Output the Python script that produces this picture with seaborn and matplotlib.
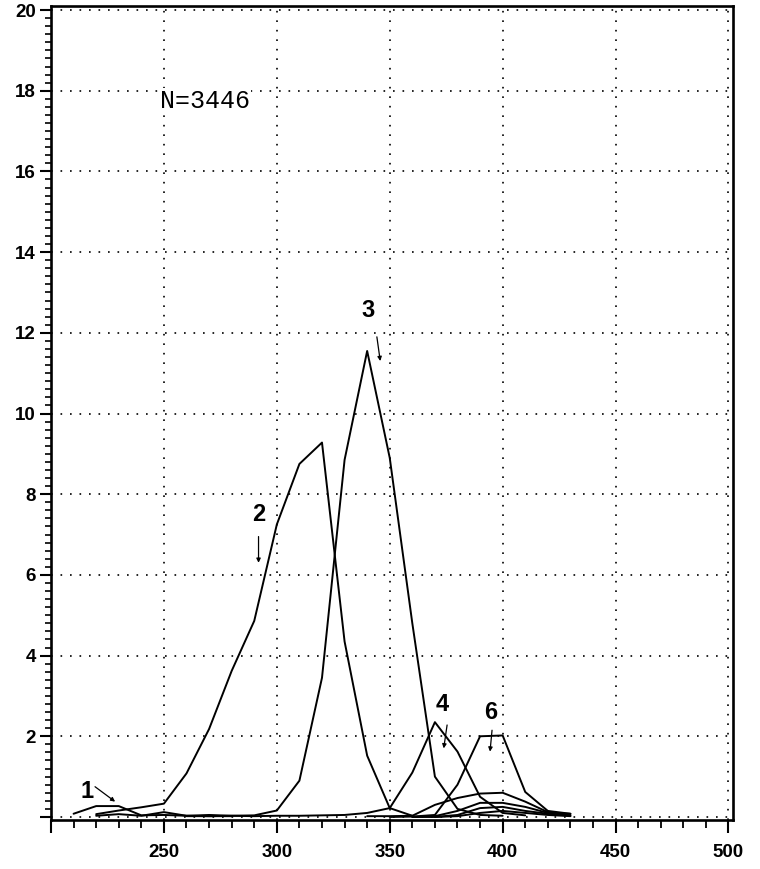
import numpy as np
import pandas as pd
import matplotlib
matplotlib.use("Agg")
import matplotlib.pyplot as plt
from matplotlib.ticker import MultipleLocator, FixedLocator, FuncFormatter
import seaborn as sns

# ---- data ----
c1_x = [210, 220, 230, 240, 250, 260, 270, 280]
c1_y = [0.08, 0.27, 0.27, 0.04, 0.05, 0.03, 0.02, 0.02]

c2_x = [220, 230, 240, 250, 260, 270, 280, 290, 300, 310, 320, 330, 340, 350, 360]
c2_y = [0.07, 0.16, 0.24, 0.33, 1.08, 2.18, 3.62, 4.86, 7.25, 8.75, 9.28, 4.35, 1.52, 0.22, 0.03]

c3_x = [220, 230, 240, 250, 260, 270, 280, 290, 300, 310, 320, 330, 340, 350, 360, 370, 380, 390, 400]
c3_y = [0.03, 0.07, 0.03, 0.12, 0.03, 0.05, 0.03, 0.04, 0.16, 0.9, 3.45, 8.85, 11.55, 8.9, 4.8, 1.0, 0.2, 0.05, 0.03]

c4_x = [260, 270, 280, 290, 300, 310, 320, 330, 340, 350, 360, 370, 380, 390, 400, 410]
c4_y = [0.02, 0.02, 0.03, 0.02, 0.03, 0.03, 0.04, 0.05, 0.1, 0.22, 1.1, 2.35, 1.62, 0.5, 0.1, 0.04]

c5_x = [340, 350, 360, 370, 380, 390, 400, 410, 420, 430]
c5_y = [0.02, 0.02, 0.03, 0.3, 0.47, 0.58, 0.6, 0.38, 0.12, 0.05]

c6_x = [350, 360, 370, 380, 390, 400, 410, 420, 430]
c6_y = [0.0, 0.01, 0.05, 0.8, 2.0, 2.02, 0.62, 0.15, 0.08]

c7_x = [360, 370, 380, 390, 400, 410, 420, 430]
c7_y = [0.0, 0.02, 0.15, 0.35, 0.35, 0.25, 0.1, 0.08]

c8_x = [360, 370, 380, 390, 400, 410, 420, 430]
c8_y = [0.0, 0.0, 0.05, 0.22, 0.25, 0.15, 0.08, 0.03]

c9_x = [370, 380, 390, 400, 410, 420, 430]
c9_y = [0.0, 0.02, 0.1, 0.15, 0.1, 0.05, 0.02]

curve_names = ["1", "2", "3", "4", "5", "6", "7", "8", "9"]
curves_x = [c1_x, c2_x, c3_x, c4_x, c5_x, c6_x, c7_x, c8_x, c9_x]
curves_y = [c1_y, c2_y, c3_y, c4_y, c5_y, c6_y, c7_y, c8_y, c9_y]

x_ticks = [200, 250, 300, 350, 400, 450, 500]
y_ticks = [0, 2, 4, 6, 8, 10, 12, 14, 16, 18, 20]

labels_text = ["1", "2", "3", "4", "6"]
labels_pos = [(215.8, 0.62), (292.2, 7.5), (340.5, 12.55), (373.2, 2.78), (394.6, 2.6)]
arrows_from = [(219.5, 0.75), (291.9, 6.95), (344.3, 11.9), (375.4, 2.28), (395.3, 2.15)]
arrows_to = [(228.4, 0.38), (291.9, 6.3), (345.8, 11.3), (373.9, 1.7), (394.4, 1.62)]

rows = []
for name, xs, ys in zip(curve_names, curves_x, curves_y):
    for xv, yv in zip(xs, ys):
        rows.append({"curve": name, "x": xv, "y": yv})
df = pd.DataFrame(rows)

# ---- plotting ----
sns.set_style("ticks")
plt.rcParams["font.family"] = ["Liberation Sans Narrow", "Liberation Sans", "DejaVu Sans"]
plt.rcParams["text.color"] = "black"
plt.rcParams["xtick.color"] = "black"
plt.rcParams["ytick.color"] = "black"
plt.rcParams["xtick.labelcolor"] = "black"
plt.rcParams["ytick.labelcolor"] = "black"

fig = plt.figure(figsize=(7.6, 8.69), dpi=100)
ax = fig.add_axes([51 / 760, 1 - 820 / 869, 682 / 760, 814 / 869])

sns.lineplot(data=df, x="x", y="y", units="curve", estimator=None,
             color="black", linewidth=1.4, ax=ax, sort=False)

ax.set_xlim(200, 502)
ax.set_ylim(-0.075, 20.1)

ax.xaxis.set_major_locator(FixedLocator(x_ticks))
ax.xaxis.set_minor_locator(MultipleLocator(10))
ax.yaxis.set_major_locator(FixedLocator(y_ticks))
ax.yaxis.set_minor_locator(MultipleLocator(0.2))
ax.xaxis.set_major_formatter(FuncFormatter(lambda v, p: "" if v == 200 else f"{v:.0f}"))
ax.yaxis.set_major_formatter(FuncFormatter(lambda v, p: "" if v == 0 else f"{v:.0f}"))

ax.tick_params(axis="x", which="major", direction="out", length=9, width=1.5, pad=8,
               labelsize=13.5, colors="black", labelcolor="black")
ax.tick_params(axis="x", which="minor", direction="out", length=6, width=1.3, colors="black")
ax.tick_params(axis="y", which="major", direction="out", length=8, width=1.5, pad=3,
               labelsize=13.5, colors="black", labelcolor="black")
ax.tick_params(axis="y", which="minor", direction="out", length=4, width=1.2, colors="black")
for lab in ax.get_xticklabels() + ax.get_yticklabels():
    lab.set_fontweight("bold")
    lab.set_color("black")

ax.grid(True, which="major", color="black", linestyle=(0, (1, 4.7)), linewidth=1.2)
ax.set_axisbelow(True)
for s in ax.spines.values():
    s.set_visible(True)
    s.set_linewidth(1.9)
    s.set_color("black")

ax.set_xlabel("")
ax.set_ylabel("")

ax.text(268.3, 17.74, "N=3446", family=["Liberation Mono", "DejaVu Sans Mono"],
        fontsize=18, ha="center", va="center", color="black", zorder=5,
        bbox=dict(facecolor="white", edgecolor="none", pad=0.5))

for t, (tx, ty), (fx, fy), (ex, ey) in zip(labels_text, labels_pos, arrows_from, arrows_to):
    ax.text(tx, ty, t, fontsize=17, fontweight="bold", ha="center", va="center",
            color="black", family=["Liberation Sans", "DejaVu Sans"])
    ax.annotate("", xy=(ex, ey), xytext=(fx, fy),
                arrowprops=dict(arrowstyle="-|>", color="black", lw=0.9,
                                mutation_scale=6, shrinkA=0, shrinkB=0))

fig.savefig("out.png", dpi=100)
